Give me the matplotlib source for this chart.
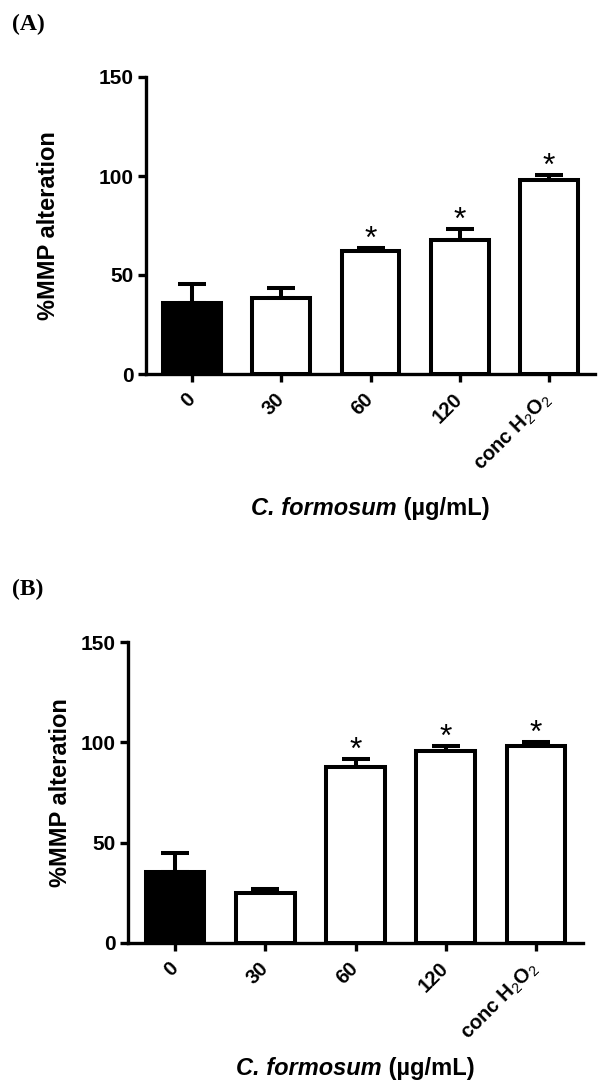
import matplotlib
matplotlib.use("Agg")
import matplotlib.pyplot as plt
import numpy as np

plt.rcParams['font.family'] = ['Liberation Sans', 'DejaVu Sans']
plt.rcParams['mathtext.fontset'] = 'custom'
plt.rcParams['mathtext.rm'] = 'Liberation Sans:bold'
plt.rcParams['mathtext.it'] = 'Liberation Sans:bold:italic'
plt.rcParams['mathtext.sf'] = 'Liberation Sans'
plt.rcParams['mathtext.bf'] = 'Liberation Sans:bold'

categories = ['0', '30', '60', '120', r'conc H$_\mathsf{2}$O$_\mathsf{2}$']
means_a = [35.9, 38.4, 62.1, 67.7, 98.0]
sem_a = [9.6, 5.0, 1.5, 5.5, 2.5]
sig_a = [False, False, True, True, True]
means_b = [35.5, 25.0, 87.5, 95.5, 98.0]
sem_b = [9.5, 2.0, 4.0, 2.5, 2.0]
sig_b = [False, False, True, True, True]
colors = ['black', 'white', 'white', 'white', 'white']
yticks = [0, 50, 100, 150]
xlabel_species = 'C. formosum'
xlabel_unit = ' (µg/mL)'
ylabel = '%MMP alteration'

W, H = 600, 1091
fig = plt.figure(figsize=(W / 100, H / 100), dpi=100)


def px_axes(l, r, t, b):
    return fig.add_axes([l / W, 1 - b / H, (r - l) / W, (b - t) / H])


def panel(ax, means, sem, sig):
    x = np.arange(len(categories))
    ax.bar(x, means, width=0.65, color=colors, edgecolor='black',
           linewidth=2.9, zorder=3)
    ax.errorbar(x, means, yerr=[np.zeros(len(sem)), sem], fmt='none',
                ecolor='black', elinewidth=2.9, capsize=10, capthick=2.9,
                zorder=2)
    for xi, m, s, g in zip(x, means, sem, sig):
        if g:
            ax.annotate('*', (xi, m + s), xytext=(0, 6),
                        textcoords='offset points', ha='center', va='center',
                        fontsize=23)
    ax.set_xlim(-0.52, 4.52)
    ax.set_ylim(0, 150)
    ax.set_yticks(yticks)
    ax.set_yticklabels([str(v) for v in yticks], fontsize=15, fontweight='bold')
    ax.set_xticks(x)
    ax.set_xticklabels(categories, rotation=45, ha='right', va='center',
                       rotation_mode='anchor', fontsize=14.5, fontweight='bold')
    for sp in ['top', 'right']:
        ax.spines[sp].set_visible(False)
    for sp in ['left', 'bottom']:
        ax.spines[sp].set_linewidth(2.4)
    ax.tick_params(axis='both', direction='out', length=6, width=2.4, pad=3)
    ax.tick_params(axis='x', pad=10)
    ax.set_ylabel(ylabel, fontsize=17, fontweight='bold')


def xlabel(ax, top_px):
    renderer = fig.canvas.get_renderer()
    t1 = fig.text(0, 0, xlabel_species, fontsize=17, fontweight='bold',
                  fontstyle='italic', va='top', ha='left')
    t2 = fig.text(0, 0, xlabel_unit, fontsize=17, fontweight='bold',
                  va='top', ha='left')
    w1 = t1.get_window_extent(renderer).width
    w2 = t2.get_window_extent(renderer).width
    bb = ax.get_window_extent(renderer)
    cx = (bb.x0 + bb.x1) / 2
    x0 = cx - (w1 + w2) / 2
    y = 1 - top_px / H
    t1.set_position((x0 / W, y))
    t2.set_position(((x0 + w1) / W, y))


ax_a = px_axes(146, 595, 77, 374)
panel(ax_a, means_a, sem_a, sig_a)
ax_a.yaxis.set_label_coords((60 - 146) / 449, 0.5)

ax_b = px_axes(128, 583, 642, 943)
panel(ax_b, means_b, sem_b, sig_b)
ax_b.yaxis.set_label_coords((72 - 128) / 455, 0.5)

fig.canvas.draw()
xlabel(ax_a, 497)
xlabel(ax_b, 1057)

fig.text(12 / W, 1 - 24 / H, '(A)', fontsize=17, fontweight='bold',
         family='Liberation Serif', ha='left', va='center')
fig.text(12 / W, 1 - 589 / H, '(B)', fontsize=17, fontweight='bold',
         family='Liberation Serif', ha='left', va='center')

fig.savefig('out.png', dpi=100, facecolor='white')
